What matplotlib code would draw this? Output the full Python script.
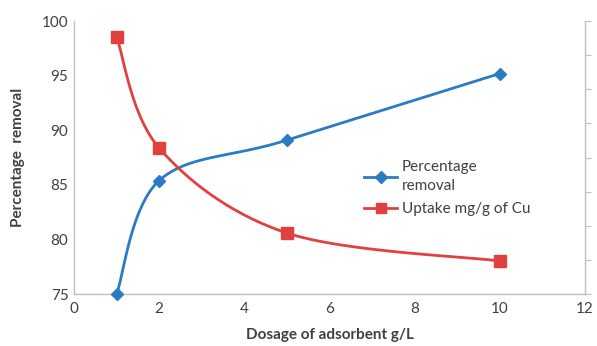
import matplotlib.pyplot as plt
import numpy as np

plt.rcParams['font.family'] = ['Lato', 'DejaVu Sans']

dosage = [1, 2, 5, 10]
removal = [75.0, 85.4, 89.1, 95.2]
uptake = [7.53, 4.28, 1.79, 0.97]  # right axis, labels hidden in the original

BLUE = '#2B7BC4'
RED = '#E0413F'
AXIS = '#BFBFBF'
TXT = '#404040'


def smooth(ax, xs, ys, n=40):
    # Excel-style smoothed line: Catmull-Rom in display space
    pts = ax.transData.transform(np.column_stack([xs, ys]))
    out = []
    m = len(pts)
    for i in range(m - 1):
        p0 = pts[max(i - 1, 0)]
        p1 = pts[i]
        p2 = pts[i + 1]
        p3 = pts[min(i + 2, m - 1)]
        c1 = p1 + (p2 - p0) / 6
        c2 = p2 - (p3 - p1) / 6
        t = np.linspace(0, 1, n)[:, None]
        seg = (1 - t) ** 3 * p1 + 3 * (1 - t) ** 2 * t * c1 + 3 * (1 - t) * t ** 2 * c2 + t ** 3 * p2
        out.append(seg if i == 0 else seg[1:])
    out = np.vstack(out)
    return ax.transData.inverted().transform(out).T


fig = plt.figure(figsize=(5.97, 3.46), dpi=100)
ax = fig.add_axes([0.124, 0.150, 0.856, 0.789])
ax2 = ax.twinx()

ax.set_xlim(0, 12)
ax.set_ylim(75, 100)
ax2.set_ylim(0, 8)
ax.set_xticks(range(0, 13, 2))
ax.set_yticks(range(75, 101, 5))
ax2.set_yticks(range(0, 9))
ax2.set_yticklabels([])

for a in (ax, ax2):
    for s in a.spines.values():
        s.set_visible(False)
ax.spines['left'].set_visible(True)
ax.spines['bottom'].set_visible(True)
ax2.spines['right'].set_visible(True)
for s in (ax.spines['left'], ax.spines['bottom'], ax2.spines['right']):
    s.set_color(AXIS)
    s.set_linewidth(1.0)

ax.tick_params(axis='both', length=0, labelsize=11, colors=TXT, pad=4)
ax.tick_params(axis='x', pad=6)
ax2.tick_params(axis='y', length=4, color=AXIS, direction='out')

fig.canvas.draw()
bx, by = smooth(ax, dosage, removal)
rx, ry = smooth(ax2, dosage, uptake)

ax.plot(bx, by, color=BLUE, lw=2, zorder=3)
ax.plot(dosage, removal, ls='none', marker='D', ms=6.5, color=BLUE, zorder=4, clip_on=False)
ax2.plot(rx, ry, color=RED, lw=2, zorder=3)
ax2.plot(dosage, uptake, ls='none', marker='s', ms=8, color=RED, zorder=4, clip_on=False)

ax.plot([], [], color=BLUE, lw=2, marker='D', ms=6, label='Percentage\nremoval')
ax.plot([], [], color=RED, lw=2, marker='s', ms=7, label='Uptake mg/g of Cu')
leg = ax.legend(loc='upper left', bbox_to_anchor=(0.555, 0.515), frameon=False,
                fontsize=11, handlelength=2.2, handletextpad=0.3,
                labelspacing=0.6, borderaxespad=0)
for t in leg.get_texts():
    t.set_color(TXT)
    t.set_linespacing(1.5)

ax.set_xlabel('Dosage of adsorbent g/L', fontsize=11, fontweight='bold', color=TXT, labelpad=8)
ax.set_ylabel('Percentage  removal', fontsize=11, fontweight='bold', color=TXT, labelpad=12)

fig.savefig('out.png', dpi=100)
